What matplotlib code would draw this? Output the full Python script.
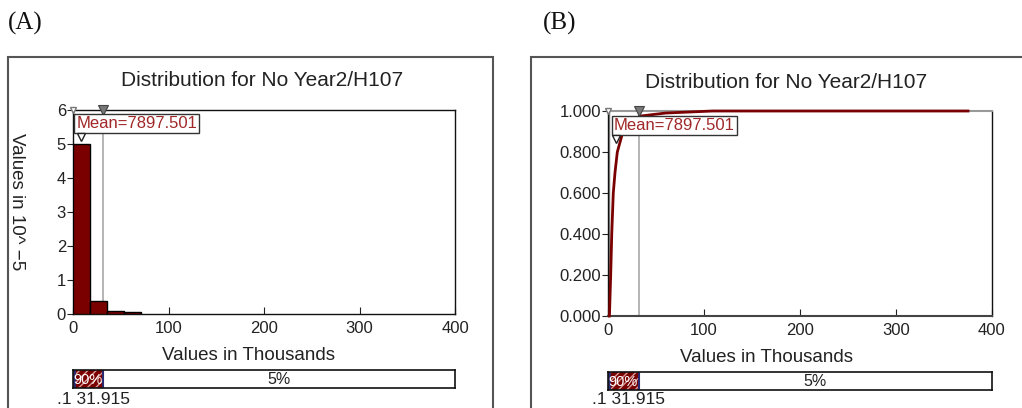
import matplotlib
matplotlib.use("Agg")
import matplotlib.pyplot as plt
from matplotlib.patches import Rectangle
from matplotlib.transforms import blended_transform_factory

plt.rcParams['font.family'] = ['Liberation Sans', 'DejaVu Sans']

# summary values
title = "Distribution for No Year2/H107"
mean_value = 7.897501          # thousands
mean_text = "Mean=7897.501"
lower_cut = 0.1                # 5% delimiter, thousands
upper_cut = 31.915             # 95% delimiter, thousands
band_labels = ["90%", "5%"]
cut_text = ".1 31.915"

# histogram (density, in 10^-5)
bin_edges = [0.0, 17.8, 35.6, 53.4, 71.2]
bin_heights = [5.0, 0.37, 0.10, 0.05]

# cumulative curve
cdf_x = [1.5, 2.8, 3.9, 5.5, 7.3, 9.7, 15.6, 33.0, 60.0, 109.0, 375.0]
cdf_y = [0.0, 0.2, 0.4, 0.6, 0.7, 0.8, 0.9, 0.975, 0.99, 1.0, 1.0]

x_ticks = [0, 100, 200, 300, 400]
hist_yticks = [0, 1, 2, 3, 4, 5, 6]
cdf_yticks = [0.0, 0.2, 0.4, 0.6, 0.8, 1.0]

W, H = 1022, 408
RED = '#7a0000'
TXT = '#222222'

fig = plt.figure(figsize=(W / 100, H / 100), dpi=100)


def box(x0, y0, x1, y1):
    # pixel box (top-left origin) -> figure fraction rect
    return [x0 / W, 1 - y1 / H, (x1 - x0) / W, (y1 - y0) / H]


def px(x, y):
    return x / W, 1 - y / H


def frame(x0, y0, x1, y1):
    fig.patches.append(Rectangle(px(x0, y1), (x1 - x0) / W, (y1 - y0) / H,
                                 transform=fig.transFigure, fill=False,
                                 ec='#555555', lw=1.5))


def style_axes(ax, yticks, ylabels):
    ax.set_xlim(0, 400)
    ax.set_xticks(x_ticks)
    ax.set_xticklabels([str(t) for t in x_ticks])
    ax.set_yticks(yticks)
    ax.set_yticklabels(ylabels)
    ax.tick_params(axis='x', direction='in', length=5, pad=5,
                   labelsize=12, colors=TXT)
    ax.tick_params(axis='y', direction='out', length=4, pad=1,
                   labelsize=12, colors=TXT)
    for s in ax.spines.values():
        s.set_linewidth(1.0)
        s.set_color('#111111')


def markers(ax, ymark):
    tr = blended_transform_factory(ax.transData, ax.transAxes)
    ax.axvline(upper_cut, color='#a8a8a8', lw=1.2, zorder=1)
    ax.plot([lower_cut], [1.0], marker='v', ms=5, mfc='white', mec='#777777',
            mew=1, transform=tr, clip_on=False, zorder=6)
    ax.plot([upper_cut], [1.0], marker='v', ms=7, mfc='#777777', mec='#444444',
            mew=0.8, transform=tr, clip_on=False, zorder=6)
    ax.plot([mean_value], [ymark], marker='v', ms=6, mfc='white', mec='#222222',
            mew=1, transform=tr, clip_on=False, zorder=8)


def mean_box(ax, x, y):
    ax.text(x, y, mean_text, transform=ax.transAxes, ha='center', va='center',
            fontsize=12, color='#a02828', zorder=7,
            bbox=dict(boxstyle='square,pad=0.12', fc='white', ec='#333333', lw=1))


def band(rect, label_xy):
    bx = fig.add_axes(rect)
    bx.set_xlim(0, 400)
    bx.set_ylim(0, 1)
    bx.set_xticks([])
    bx.set_yticks([])
    for s in bx.spines.values():
        s.set_linewidth(1.2)
        s.set_color('#111111')
    bx.add_patch(Rectangle((lower_cut, 0), upper_cut - lower_cut, 1,
                           fc=RED, ec='#d89a9a', hatch='////', lw=0))
    bx.axvline(0.6, color='#2a2a70', lw=2)
    bx.axvline(upper_cut, color='#2a2a70', lw=1.5)
    bx.text((lower_cut + upper_cut) / 2, 0.45, band_labels[0], ha='center',
            va='center', fontsize=10.5, color='white')
    bx.text((upper_cut + 400) / 2, 0.45, band_labels[1], ha='center',
            va='center', fontsize=11.5, color=TXT)
    fig.text(*label_xy, cut_text, ha='left', va='center', fontsize=12.5,
             color=TXT, bbox=dict(boxstyle='square,pad=0.1', fc='white', ec='none'))


# ---- (A) histogram ----
frame(8, 57, 493, 420)
fig.text(*px(8, 23), "(A)", family='Liberation Serif', fontsize=18,
         ha='left', va='center', color='#111111')
fig.text(*px(262, 81), title, ha='center', va='center', fontsize=15, color=TXT)

ax1 = fig.add_axes(box(73, 110, 455, 314))
ax1.bar(bin_edges[:-1], bin_heights, width=[b - a for a, b in zip(bin_edges[:-1], bin_edges[1:])],
        align='edge', color=RED, edgecolor='black', lw=1, zorder=3)
ax1.set_ylim(0, 6)
style_axes(ax1, hist_yticks, [str(t) for t in hist_yticks])
markers(ax1, 0.87)
mean_box(ax1, 0.167, 0.935)
fig.text(*px(16, 202), "Values in 10^ \u22125", rotation=270, ha='center',
         va='center', fontsize=13.5, color=TXT)
fig.text(*px(248, 356), "Values in Thousands", ha='center', va='center',
         fontsize=13.5, color=TXT)
band(box(73, 370, 455, 388), px(57, 399))

# ---- (B) cumulative ----
frame(531, 57, 1040, 420)
fig.text(*px(543, 23), "(B)", family='Liberation Serif', fontsize=18,
         ha='left', va='center', color='#111111')
fig.text(*px(786, 82), title, ha='center', va='center', fontsize=15, color=TXT)

ax2 = fig.add_axes(box(608, 111, 992, 316))
ax2.set_ylim(0, 1)
ax2.axvline(lower_cut, color='#888888', lw=2.5, zorder=2)
ax2.plot(cdf_x, cdf_y, color=RED, lw=2, zorder=4, clip_on=False)
style_axes(ax2, cdf_yticks, ["%.3f" % t for t in cdf_yticks])
ax2.spines['top'].set_color('#999999')
ax2.spines['top'].set_linewidth(1.5)
ax2.spines['bottom'].set_color('#444444')
ax2.spines['bottom'].set_linewidth(1.5)
markers(ax2, 0.865)
mean_box(ax2, 0.173, 0.93)
fig.text(*px(766, 358), "Values in Thousands", ha='center', va='center',
         fontsize=13.5, color=TXT)
band(box(608, 372, 992, 390), px(592, 400))

fig.savefig("out.png", dpi=100)
